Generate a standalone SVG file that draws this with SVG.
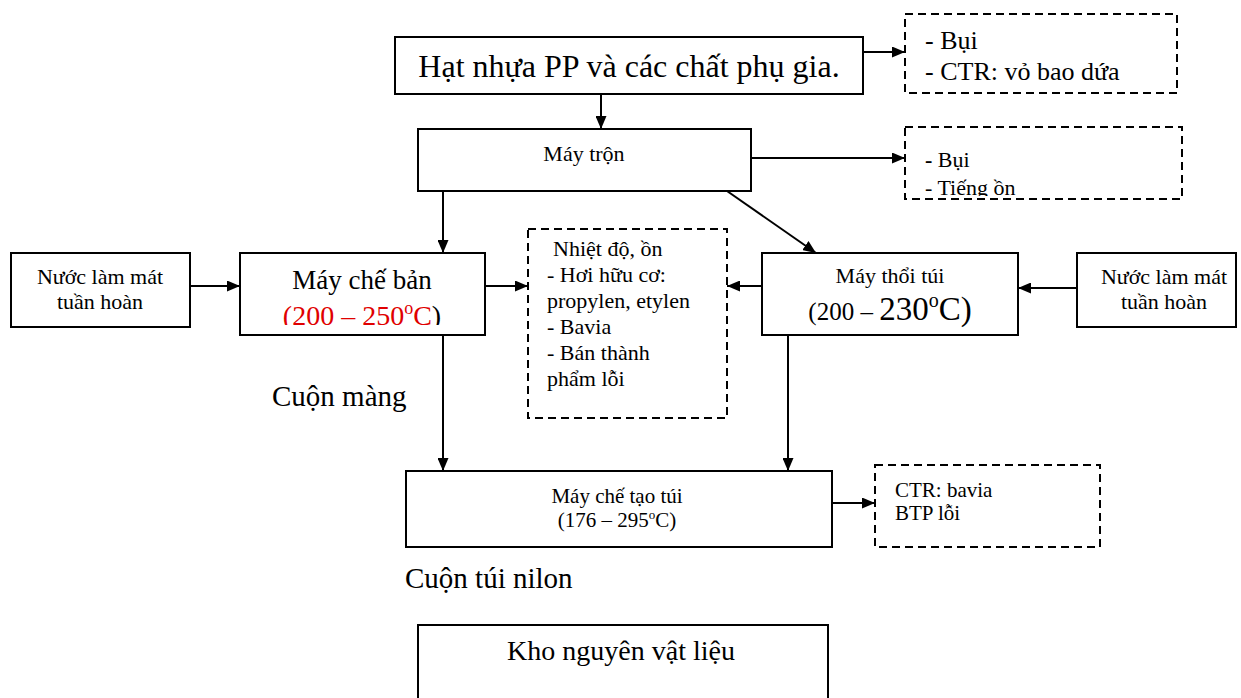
<svg xmlns="http://www.w3.org/2000/svg" width="1241" height="698" viewBox="0 0 1241 698">
  <style>
    .box { fill: #fff; stroke: #000; stroke-width: 2; }
    .dash { fill: #fff; stroke: #000; stroke-width: 2; stroke-dasharray: 8 5; }
    .t { font-family: "Liberation Serif", "Times New Roman", serif; fill: #000; }
    .c { text-anchor: middle; }
    .red { fill: #e00000; }
    .link { stroke: #000; stroke-width: 2; fill: none; marker-end: url(#arrow); }
  </style>
  <defs>
    <marker id="arrow" viewBox="0 0 13 11" refX="13" refY="5.5" markerWidth="13" markerHeight="11" markerUnits="userSpaceOnUse" orient="auto">
      <path d="M0,0 L13,5.5 L0,11 z" fill="#000"/>
    </marker>
    <!-- the temperature line sits in a frame that crops its lower edge -->
    <clipPath id="clipBan"><rect x="240" y="253" width="245" height="72"/></clipPath>
    <clipPath id="clipTron"><rect x="905" y="127" width="277" height="69"/></clipPath>
  </defs>
  <rect width="1241" height="698" fill="#fff"/>

  <!-- process flow arrows -->
  <g id="connectors">
    <line class="link" x1="863" y1="52" x2="905" y2="52"/>
    <line class="link" x1="601" y1="94" x2="601" y2="129"/>
    <line class="link" x1="751" y1="158" x2="905" y2="158"/>
    <line class="link" x1="443" y1="191" x2="443" y2="253"/>
    <line class="link" x1="727" y1="191" x2="816" y2="253"/>
    <line class="link" x1="190" y1="286" x2="240" y2="286"/>
    <line class="link" x1="485" y1="286" x2="528" y2="286"/>
    <line class="link" x1="762" y1="286" x2="727" y2="286"/>
    <line class="link" x1="1077" y1="288" x2="1018" y2="288"/>
    <line class="link" x1="443" y1="335" x2="443" y2="471"/>
    <line class="link" x1="788" y1="335" x2="788" y2="471"/>
    <line class="link" x1="832" y1="503" x2="875" y2="503"/>
  </g>

  <g id="nguyen-lieu">
    <rect class="box" x="395" y="37" width="468" height="57"/>
    <text class="t c" x="629" y="77" font-size="32">Hạt nhựa PP và các chất phụ gia.</text>
  </g>

  <g id="thai-nguyen-lieu">
    <rect class="dash" x="905" y="14" width="272" height="79"/>
    <text class="t" x="925" y="49" font-size="26">- Bụi</text>
    <text class="t" x="925" y="80" font-size="26">- CTR: vỏ bao dứa</text>
  </g>

  <g id="may-tron">
    <rect class="box" x="418" y="129" width="333" height="62"/>
    <text class="t c" x="584" y="161" font-size="22">Máy trộn</text>
  </g>

  <g id="thai-may-tron">
    <rect class="dash" x="905" y="127" width="277" height="72"/>
    <g clip-path="url(#clipTron)">
      <text class="t" x="925" y="167" font-size="22"><tspan font-weight="bold">-</tspan> Bụi</text>
      <text class="t" x="925" y="195" font-size="22">- Tiếng ồn</text>
    </g>
  </g>

  <g id="nuoc-trai">
    <rect class="box" x="11" y="253" width="179" height="74"/>
    <text class="t c" x="100" y="284" font-size="22">Nước làm mát</text>
    <text class="t c" x="100" y="309" font-size="22">tuần hoàn</text>
  </g>

  <g id="may-che-ban">
    <rect class="box" x="240" y="253" width="245" height="82"/>
    <text class="t c" x="362" y="289" font-size="27">Máy chế bản</text>
    <text class="t c" x="362" y="325" font-size="28" clip-path="url(#clipBan)"><tspan class="red">(200 – 250</tspan><tspan class="red" font-size="18" dy="-11">o</tspan><tspan class="red" dy="11">C</tspan>)</text>
  </g>

  <g id="thai-giua">
    <rect class="dash" x="528" y="229" width="199" height="189"/>
    <text class="t" x="553" y="256" font-size="22">Nhiệt độ,  ồn</text>
    <text class="t" x="547" y="282" font-size="22">- Hơi hữu cơ:</text>
    <text class="t" x="547" y="308" font-size="22">propylen, etylen</text>
    <text class="t" x="547" y="334" font-size="22">- Bavia</text>
    <text class="t" x="547" y="360" font-size="22">- Bán thành</text>
    <text class="t" x="547" y="386" font-size="22">phẩm lỗi</text>
  </g>

  <g id="may-thoi-tui">
    <rect class="box" x="762" y="253" width="256" height="82"/>
    <text class="t c" x="890" y="283" font-size="22">Máy thổi túi</text>
    <text class="t c" x="890" y="320" font-size="25">(200 – <tspan font-size="33">230</tspan><tspan font-size="20" dy="-13">o</tspan><tspan font-size="33" dy="13">C)</tspan></text>
  </g>

  <g id="nuoc-phai">
    <rect class="box" x="1077" y="253" width="159" height="74"/>
    <text class="t c" x="1164" y="284" font-size="22">Nước làm mát</text>
    <text class="t c" x="1164" y="309" font-size="22">tuần hoàn</text>
  </g>

  <g id="cuon-mang">
    <text class="t" x="272" y="406" font-size="29">Cuộn màng</text>
  </g>

  <g id="may-che-tao-tui">
    <rect class="box" x="406" y="471" width="426" height="76"/>
    <text class="t c" x="617" y="503" font-size="21">Máy chế tạo túi</text>
    <text class="t c" x="617" y="527" font-size="21">(176 – 295<tspan font-size="13" dy="-8">o</tspan><tspan dy="8">C)</tspan></text>
  </g>

  <g id="thai-che-tao">
    <rect class="dash" x="875" y="465" width="225" height="82"/>
    <text class="t" x="895" y="497" font-size="21">CTR: bavia</text>
    <text class="t" x="895" y="520" font-size="21">BTP lỗi</text>
  </g>

  <g id="cuon-tui">
    <text class="t" x="405" y="588" font-size="29">Cuộn túi nilon</text>
  </g>

  <g id="kho">
    <rect class="box" x="418" y="625" width="410" height="80"/>
    <text class="t c" x="621" y="660" font-size="28">Kho nguyên vật liệu</text>
  </g>
</svg>
